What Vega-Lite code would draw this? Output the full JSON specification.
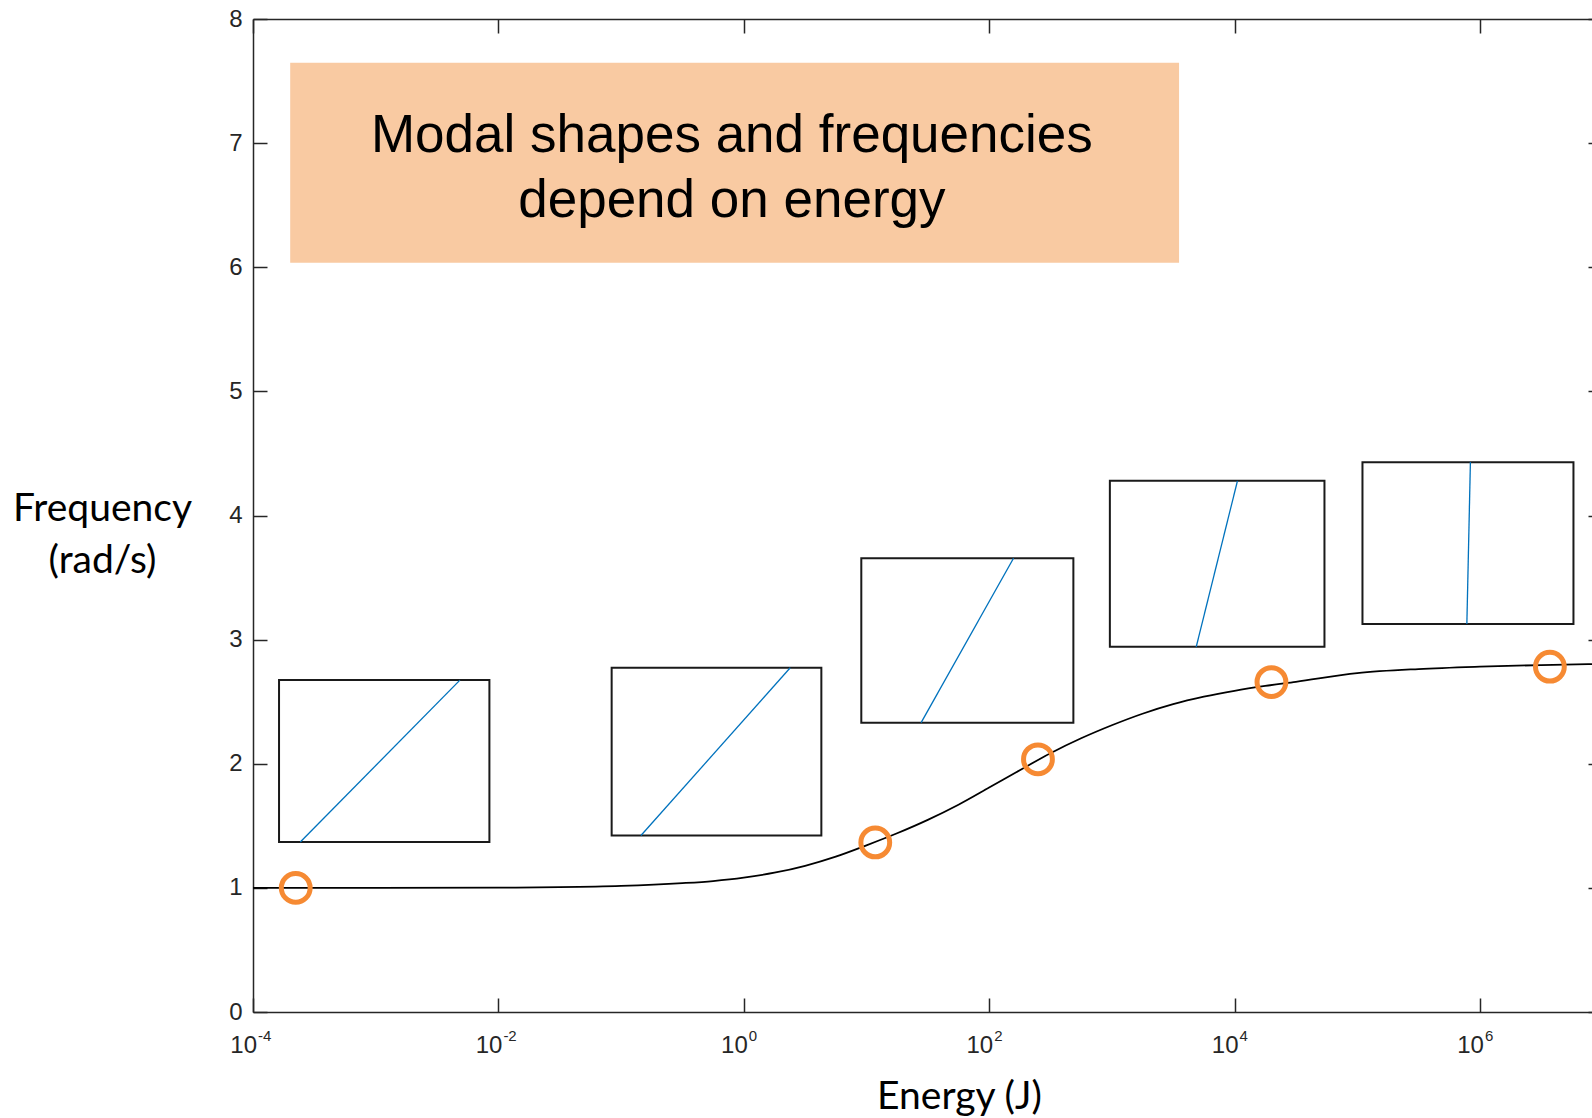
{
  "$schema": "https://vega.github.io/schema/vega-lite/v6.json",
  "width": 1339,
  "height": 993,
  "autosize": {"type": "none"},
  "padding": {"left": 253, "top": 19, "right": 0, "bottom": 106},
  "background": "white",
  "config": {
    "view": {"stroke": null},
    "axis": {
      "grid": false,
      "domainColor": "#262626",
      "domainWidth": 1.5,
      "tickColor": "#262626",
      "tickWidth": 1.5,
      "labelFont": "Liberation Sans",
      "labelFontSize": 24,
      "labelColor": "#262626",
      "labelFlush": false,
      "labelOverlap": false,
      "labelBound": false
    }
  },
  "datasets": {
    "note": [
      {"x1": 0.000201, "x2": 3532, "y1": 6.037, "y2": 7.648, "tx": 0.8, "ty": 6.931, "label": "Modal shapes and frequencies\ndepend on energy"}
    ],
    "boxes": [
      {"x1": 0.000163, "x2": 0.00845, "y1": 1.369, "y2": 2.674, "lx1": 0.000243, "lx2": 0.00486},
      {"x1": 0.0838, "x2": 4.29, "y1": 1.422, "y2": 2.773, "lx1": 0.1452, "lx2": 2.393},
      {"x1": 9.08, "x2": 486, "y1": 2.331, "y2": 3.656, "lx1": 27.9, "lx2": 158},
      {"x1": 964, "x2": 54100, "y1": 2.942, "y2": 4.279, "lx1": 4875, "lx2": 10570},
      {"x1": 110400, "x2": 5790000, "y1": 3.125, "y2": 4.43, "lx1": 783000, "lx2": 837000}
    ],
    "curve": [
      {"E": 0.0001, "f": 1.0},
      {"E": 0.001, "f": 1.0},
      {"E": 0.01, "f": 1.002},
      {"E": 0.03162, "f": 1.006},
      {"E": 0.1, "f": 1.016},
      {"E": 0.3162, "f": 1.038},
      {"E": 0.5623, "f": 1.055},
      {"E": 1, "f": 1.082},
      {"E": 1.778, "f": 1.122},
      {"E": 3.162, "f": 1.178},
      {"E": 5.623, "f": 1.252},
      {"E": 10, "f": 1.343},
      {"E": 17.78, "f": 1.44},
      {"E": 31.62, "f": 1.548},
      {"E": 56.23, "f": 1.67},
      {"E": 100, "f": 1.808},
      {"E": 177.8, "f": 1.948},
      {"E": 316.2, "f": 2.085},
      {"E": 562.3, "f": 2.205},
      {"E": 1000, "f": 2.31},
      {"E": 1778, "f": 2.403},
      {"E": 3162, "f": 2.48},
      {"E": 5623, "f": 2.54},
      {"E": 10000, "f": 2.588},
      {"E": 17780, "f": 2.627},
      {"E": 31620, "f": 2.66},
      {"E": 100000, "f": 2.73},
      {"E": 316200, "f": 2.763},
      {"E": 1000000, "f": 2.782},
      {"E": 3162000, "f": 2.795},
      {"E": 8200000, "f": 2.803}
    ],
    "circles": [
      {"E": 0.000223, "f": 1.0},
      {"E": 11.8, "f": 1.366},
      {"E": 250, "f": 2.036},
      {"E": 20000, "f": 2.658},
      {"E": 3720000, "f": 2.782}
    ],
    "ticklabels": [
      {"E": 0.0001, "base": "10", "t": "-4"},
      {"E": 0.01, "base": "10", "t": "-2"},
      {"E": 1, "base": "10", "t": "0"},
      {"E": 100, "base": "10", "t": "2"},
      {"E": 10000, "base": "10", "t": "4"},
      {"E": 1000000, "base": "10", "t": "6"}
    ]
  },
  "resolve": {"axis": {"x": "independent", "y": "independent"}},
  "layer": [
    {
      "data": {"name": "note"},
      "mark": {"type": "rect", "fill": "#F9CAA2"},
      "encoding": {
        "x": {"field": "x1", "type": "quantitative", "scale": {"type": "log", "domain": [0.0001, 8200000], "nice": false}, "axis": null},
        "x2": {"field": "x2"},
        "y": {"field": "y1", "type": "quantitative", "scale": {"domain": [0, 8], "nice": false}, "axis": null},
        "y2": {"field": "y2"}
      }
    },
    {
      "data": {"name": "note"},
      "mark": {"type": "text", "font": "Liberation Sans", "fontSize": 53, "align": "center", "baseline": "alphabetic", "lineBreak": "\n", "lineHeight": 65, "color": "#000000"},
      "encoding": {
        "x": {"field": "tx", "type": "quantitative", "axis": null},
        "y": {"field": "ty", "type": "quantitative", "axis": null},
        "text": {"field": "label"}
      }
    },
    {
      "data": {"name": "boxes"},
      "mark": {"type": "rect", "fill": "#ffffff", "stroke": "#1a1a1a", "strokeWidth": 2},
      "encoding": {
        "x": {"field": "x1", "type": "quantitative", "axis": null},
        "x2": {"field": "x2"},
        "y": {"field": "y1", "type": "quantitative", "axis": null},
        "y2": {"field": "y2"}
      }
    },
    {
      "data": {"name": "boxes"},
      "mark": {"type": "rule", "color": "#0072BD", "strokeWidth": 1.3},
      "encoding": {
        "x": {"field": "lx1", "type": "quantitative", "axis": null},
        "x2": {"field": "lx2"},
        "y": {"field": "y1", "type": "quantitative", "axis": null},
        "y2": {"field": "y2"}
      }
    },
    {
      "data": {"name": "ticklabels"},
      "mark": {"type": "text", "font": "Liberation Sans", "fontSize": 24, "align": "right", "baseline": "alphabetic", "dx": 4, "dy": 41, "color": "#262626"},
      "encoding": {
        "x": {"field": "E", "type": "quantitative", "axis": null},
        "y": {"datum": 0, "type": "quantitative", "axis": null},
        "text": {"field": "base"}
      }
    },
    {
      "data": {"name": "ticklabels"},
      "mark": {"type": "text", "font": "Liberation Sans", "fontSize": 15, "align": "left", "baseline": "alphabetic", "dx": 5, "dy": 28.5, "color": "#262626"},
      "encoding": {
        "x": {"field": "E", "type": "quantitative", "axis": null},
        "y": {"datum": 0, "type": "quantitative", "axis": null},
        "text": {"field": "t"}
      }
    },
    {
      "data": {"name": "curve"},
      "mark": {"type": "line", "color": "#000000", "strokeWidth": 1.8, "interpolate": "monotone"},
      "encoding": {
        "x": {
          "field": "E", "type": "quantitative",
          "axis": {
            "orient": "bottom",
            "values": [0.0001, 0.01, 1, 100, 10000, 1000000],
            "tickSize": -14,
            "labels": false,
            "title": "Energy (J)",
            "titleFont": "Lato",
            "titleFontSize": 39,
            "titleFontWeight": "normal",
            "titleColor": "#000000",
            "titleAlign": "center",
            "titleBaseline": "alphabetic",
            "titleX": 706,
            "titleY": 96
          }
        },
        "y": {
          "field": "f", "type": "quantitative",
          "axis": {
            "orient": "left",
            "values": [0, 1, 2, 3, 4, 5, 6, 7, 8],
            "tickSize": -14,
            "labelPadding": 25,
            "title": ["Frequency", "(rad/s)"],
            "titleFont": "Lato",
            "titleFontSize": 39,
            "titleFontWeight": "normal",
            "titleColor": "#000000",
            "titleAngle": 0,
            "titleAlign": "center",
            "titleBaseline": "alphabetic",
            "titleLineHeight": 52,
            "titleX": -151,
            "titleY": 501
          }
        }
      }
    },
    {
      "data": {"name": "circles"},
      "mark": {"type": "point", "shape": "circle", "filled": false, "stroke": "#F68A33", "strokeWidth": 5, "size": 830, "opacity": 1},
      "encoding": {
        "x": {
          "field": "E", "type": "quantitative",
          "axis": {"orient": "top", "values": [0.0001, 0.01, 1, 100, 10000, 1000000], "tickSize": -14, "labels": false, "title": null}
        },
        "y": {
          "field": "f", "type": "quantitative",
          "axis": {"orient": "right", "values": [0, 1, 2, 3, 4, 5, 6, 7, 8], "tickSize": -4, "labels": false, "domain": false, "title": null}
        }
      }
    }
  ]
}
